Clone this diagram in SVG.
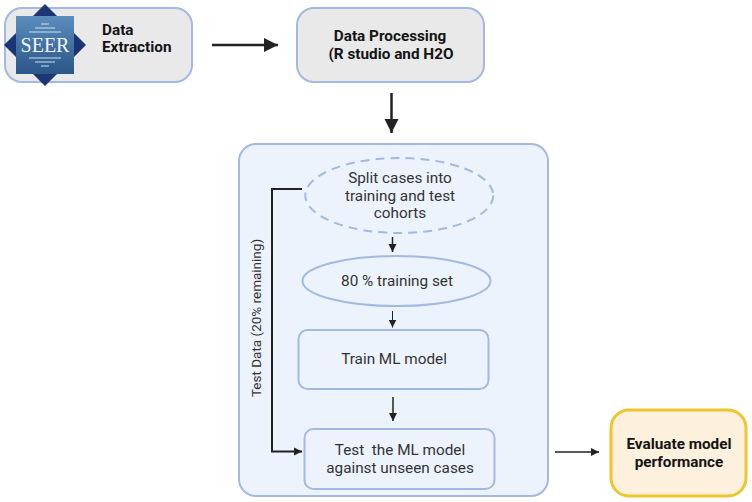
<svg xmlns="http://www.w3.org/2000/svg" width="752" height="502" viewBox="0 0 752 502">
<style>
  text { font-family: Roboto, "Liberation Sans", sans-serif; fill: #333333; font-size: 15.300px; text-anchor: middle; }
  .b { font-weight: 700; fill: #141414; }
  .box { fill: #ecf3fc; stroke: #a3b9e2; stroke-width: 2; }
  .grey { fill: #e9e9e9; stroke: #a3b9e2; stroke-width: 2; }
  .line { fill: none; stroke: #222; stroke-width: 2; }
</style>
<defs>
  <marker id="head" markerUnits="userSpaceOnUse" markerWidth="10" markerHeight="10" refX="8" refY="5" orient="auto">
    <path d="M0,1 L8,5 L0,9 Z" fill="#222"/>
  </marker>
  <marker id="headL" markerUnits="userSpaceOnUse" markerWidth="16" markerHeight="16" refX="14" refY="8" orient="auto">
    <path d="M0,1 L14,8 L0,15 Z" fill="#222"/>
  </marker>
  <linearGradient id="seerFill" x1="0" y1="0" x2="0" y2="1">
    <stop offset="0" stop-color="#5b8dbd"/>
    <stop offset="1" stop-color="#2a5688"/>
  </linearGradient>
</defs>

<rect width="752" height="502" fill="#ffffff"/>

<g id="data-extraction">
  <rect class="grey" x="5" y="8" width="187" height="74" rx="17"/>
  <path d="M45,4 L86,45 L45,86 L4,45 Z" fill="#1c3575"/>
  <rect x="16" y="16" width="58" height="58" fill="url(#seerFill)"/>
  <g stroke="#cfe0ef" stroke-width="1" fill="none">
    <path d="M41,24 H49 M35,28 H55 M29,32 H61 M29,58 H61 M35,62 H55 M41,66 H49"/>
  </g>
  <text x="45" y="52" style="font-family:'Liberation Serif',serif;font-size:20px;fill:#f2f6fa">SEER</text>
  <text class="b" x="102" y="35" style="text-anchor:start">Data</text>
  <text class="b" x="102" y="52" style="text-anchor:start">Extraction</text>
</g>

<g id="data-processing">
  <rect class="grey" x="297" y="8" width="187" height="74" rx="17"/>
  <text class="b" x="390" y="41">Data Processing</text>
  <text class="b" x="391" y="59">(R studio and H2O</text>
</g>

<g id="pipeline-panel">
  <rect class="box" x="239" y="144" width="309" height="352" rx="17"/>
</g>

<g id="split-cases">
  <ellipse cx="399.300" cy="195.500" rx="94" ry="37.500" fill="none" stroke="#a3b9e2" stroke-width="2" stroke-dasharray="9 6"/>
  <text x="400" y="183">Split cases into</text>
  <text x="400" y="201">training and test</text>
  <text x="400" y="218">cohorts</text>
</g>

<g id="training-set">
  <ellipse class="box" cx="396.500" cy="281" rx="94" ry="25"/>
  <text x="397" y="286">80 % training set</text>
</g>

<g id="train-model">
  <rect class="box" x="298.500" y="330" width="190" height="59" rx="9"/>
  <text x="394" y="364">Train ML model</text>
</g>

<g id="test-model">
  <rect class="box" x="304.500" y="429" width="190" height="60" rx="9"/>
  <text x="400" y="455" xml:space="preserve">Test  the ML model</text>
  <text x="400" y="473">against unseen cases</text>
</g>

<g id="evaluate">
  <rect x="611" y="410" width="135" height="86" rx="18" fill="#fdf0dc" stroke="#eec52d" stroke-width="3"/>
  <text class="b" x="679" y="449">Evaluate model</text>
  <text class="b" x="679" y="467">performance</text>
</g>

<g id="connectors">
  <path class="line" style="stroke-width:2.500" d="M212,45 H278" marker-end="url(#headL)"/>
  <path class="line" style="stroke-width:2.500" d="M391.500,93 V133" marker-end="url(#headL)"/>
  <path class="line" style="stroke-width:1.500" d="M392.500,237 V252" marker-end="url(#head)"/>
  <path class="line" style="stroke-width:1" d="M392.500,311 V327.500" marker-end="url(#head)"/>
  <path class="line" style="stroke-width:1.500" d="M393,397 V421" marker-end="url(#head)"/>
  <path class="line" d="M302,189 H272 V451.500 H302" marker-end="url(#head)"/>
  <path class="line" style="stroke-width:1.500" d="M555,452 H599" marker-end="url(#head)"/>
  <text transform="translate(261,318) rotate(-90)" style="font-size:13.500px">Test Data (20% remaining)</text>
</g>
</svg>
